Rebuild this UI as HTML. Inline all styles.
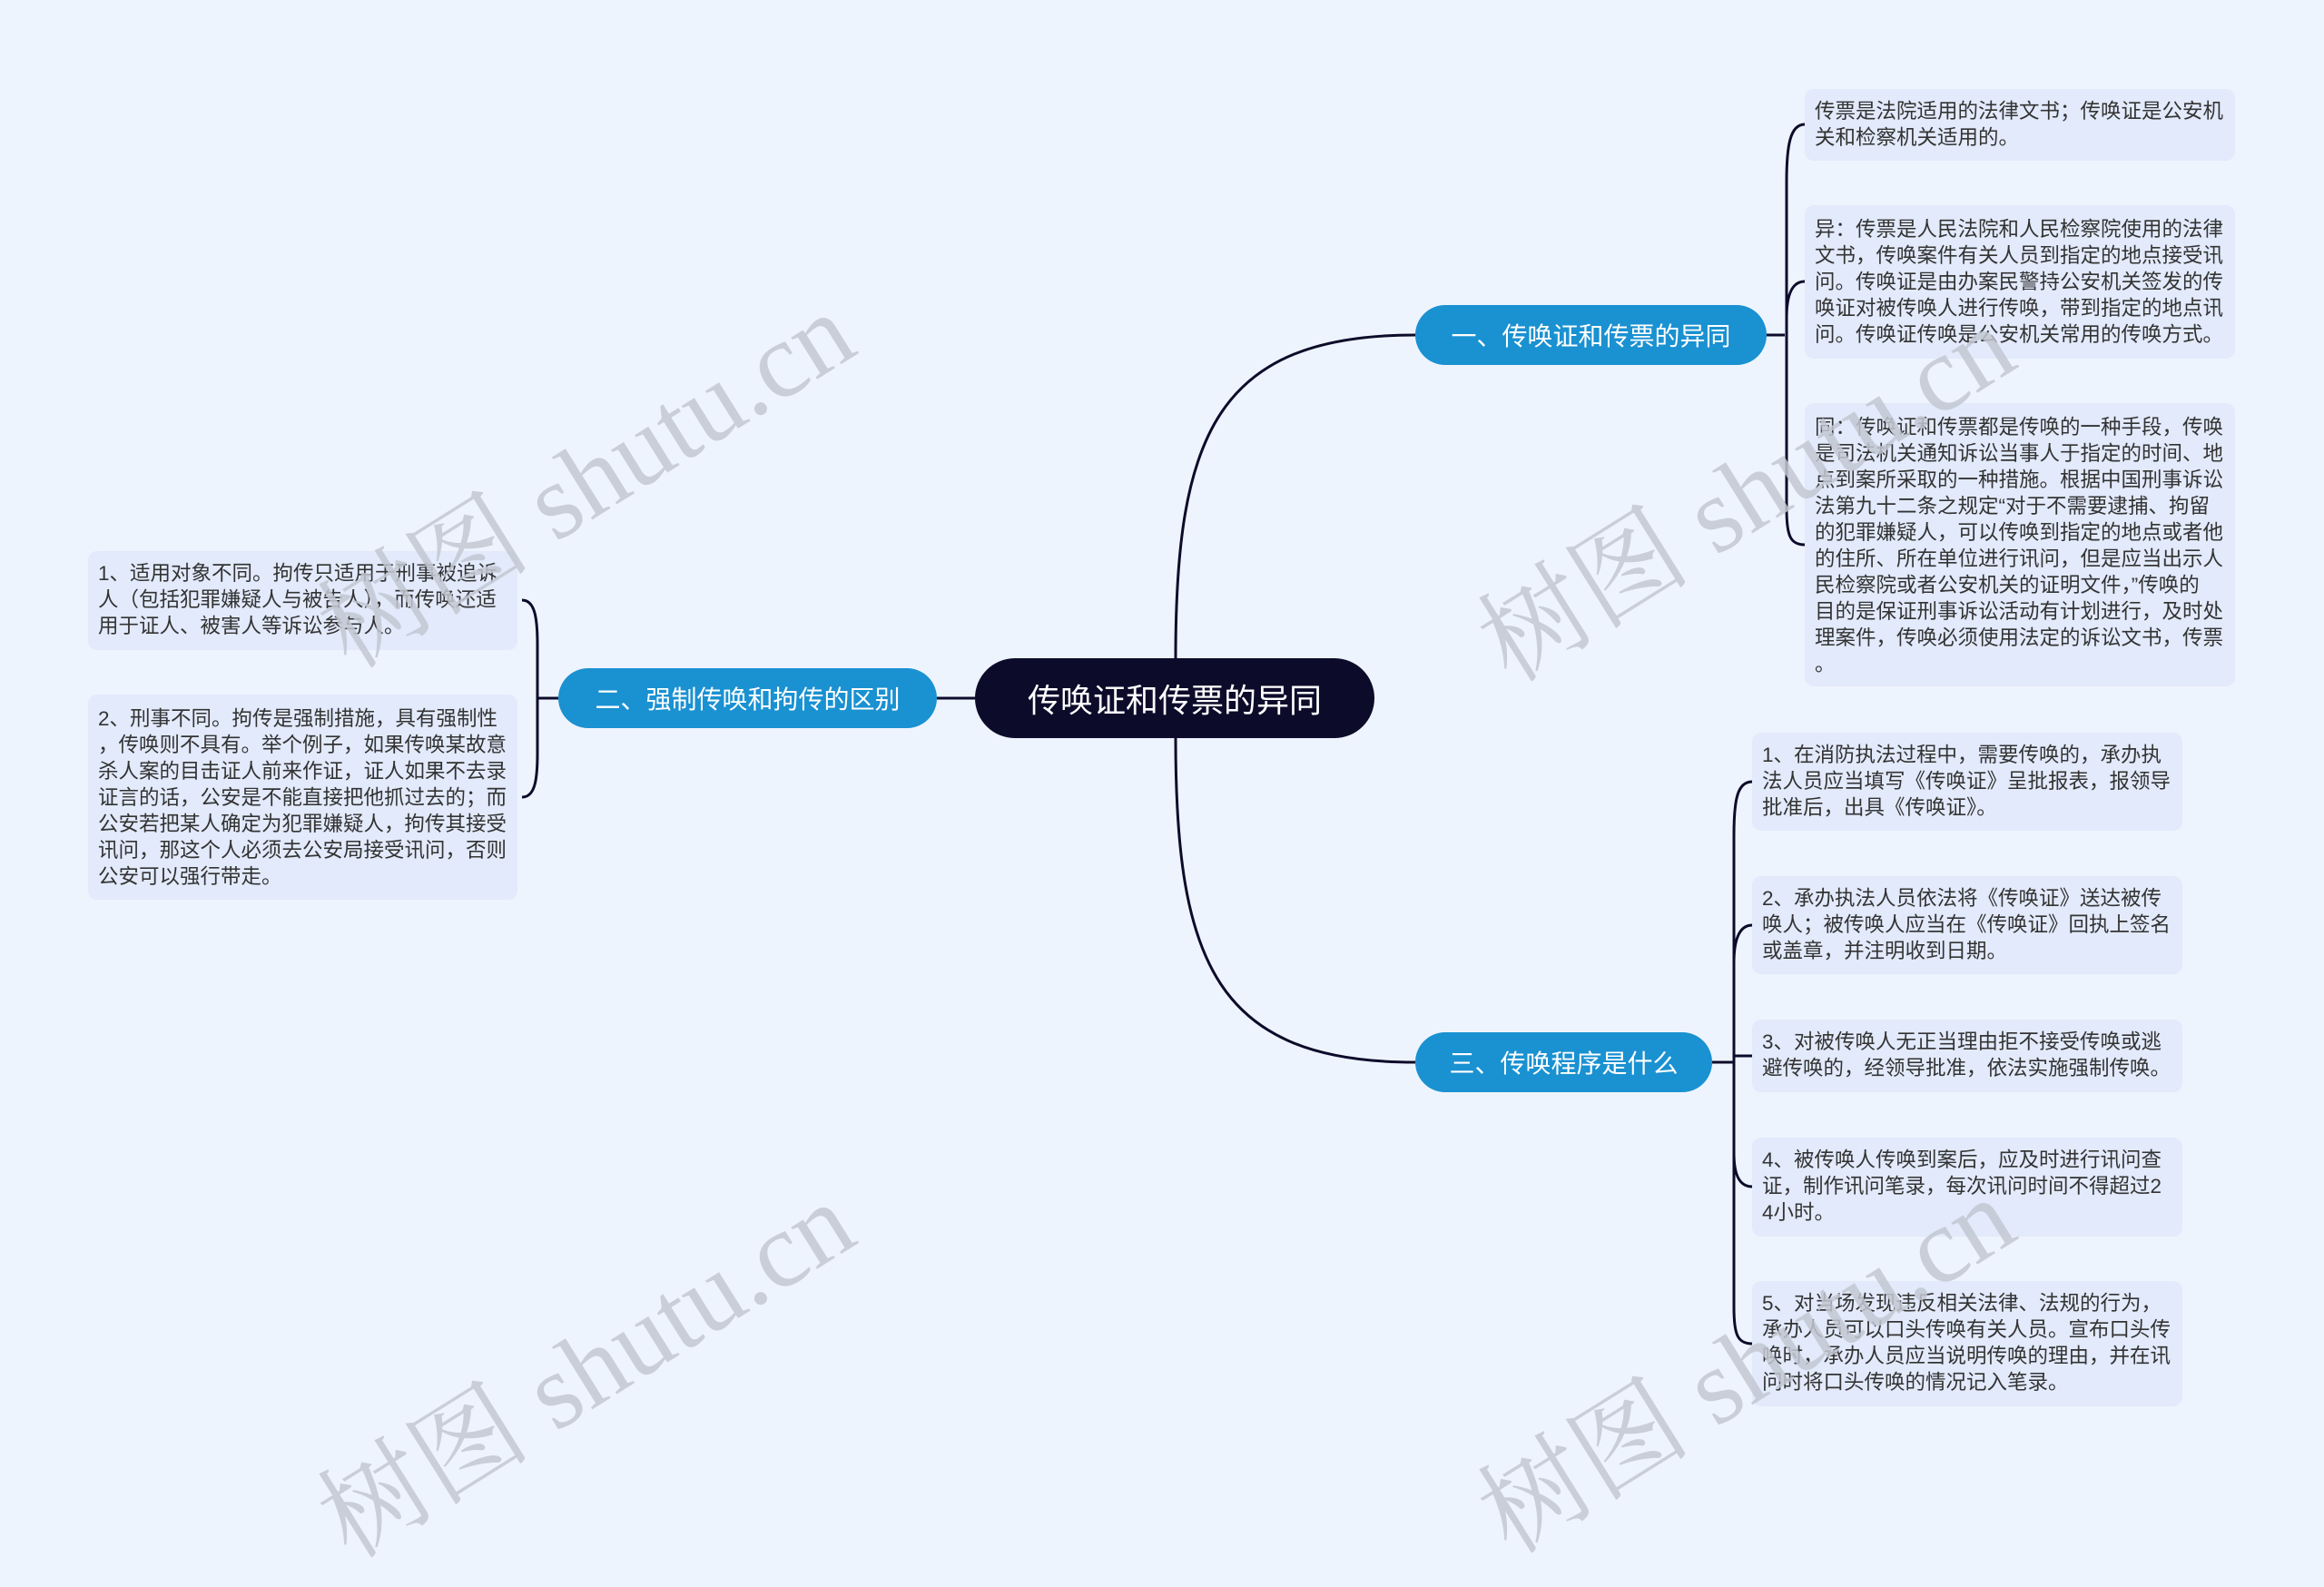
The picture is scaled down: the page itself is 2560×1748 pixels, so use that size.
<!DOCTYPE html>
<html><head><meta charset="utf-8"><style>
html,body{margin:0;padding:0}
body{width:2560px;height:1647px;background:#eef4fe;position:relative;overflow:hidden;font-family:"Liberation Sans","Noto Sans CJK SC",sans-serif}
.leaf{position:absolute;background:#e2eafb;border-radius:10px;color:#333;font-size:22.5px;line-height:29px;letter-spacing:0;box-sizing:border-box;padding:10px 10px 0 11px;white-space:nowrap}
.br{position:absolute;border-radius:33px;background:#1a91d1;color:#fff;font-size:28px;display:flex;align-items:center;justify-content:center;box-sizing:border-box}
.wm{position:absolute;font-family:"Liberation Serif","Noto Serif CJK SC",serif;font-size:118px;color:#c3c8d2;white-space:nowrap;transform:translate(-50%,-50%) rotate(-32deg);opacity:.85}
</style></head><body>
<svg width="2560" height="1647" style="position:absolute;left:0;top:0">
<g fill="none" stroke="#0d0b2a" stroke-width="3">
<path d="M1295 725 C1295 480 1340 369 1559 369"/>
<path d="M1295 813 C1295 1060 1340 1170 1559 1170"/>
<path d="M1074 769 L1032 769"/>
<path d="M1946 369 L1966 369"/>
<path d="M1988 137 C1972 137 1968 160 1968 200 L1968 560 C1968 590 1972 600 1988 600"/>
<path d="M1988 310 C1972 310 1968 330 1968 350"/>
<path d="M1886 1170 L1910 1170"/>
<path d="M1930 861 C1914 861 1910 880 1910 920 L1910 1440 C1910 1470 1914 1480 1930 1480"/>
<path d="M1930 1019 C1914 1019 1910 1040 1910 1060"/>
<path d="M1930 1307 C1914 1307 1910 1290 1910 1270"/>
<path d="M1910 1163 L1930 1163"/>
<path d="M615 769 L592 769"/>
<path d="M575 661 C589 661 592 680 592 710 L592 830 C592 860 589 878 575 878"/>
</g></svg>

<div class="leaf" style="left:1988px;top:98px;width:474px;height:79px">传票是法院适用的法律文书；传唤证是公安机<br>关和检察机关适用的。</div>
<div class="leaf" style="left:1988px;top:226px;width:474px;height:169px;padding-top:12px">异：传票是人民法院和人民检察院使用的法律<br>文书，传唤案件有关人员到指定的地点接受讯<br>问。传唤证是由办案民警持公安机关签发的传<br>唤证对被传唤人进行传唤，带到指定的地点讯<br>问。传唤证传唤是公安机关常用的传唤方式。</div>
<div class="leaf" style="left:1988px;top:444px;width:474px;height:312px;padding-top:12px">同：传唤证和传票都是传唤的一种手段，传唤<br>是司法机关通知诉讼当事人于指定的时间、地<br>点到案所采取的一种措施。根据中国刑事诉讼<br>法第九十二条之规定“对于不需要逮捕、拘留<br>的犯罪嫌疑人，可以传唤到指定的地点或者他<br>的住所、所在单位进行讯问，但是应当出示人<br>民检察院或者公安机关的证明文件，”传唤的<br>目的是保证刑事诉讼活动有计划进行，及时处<br>理案件，传唤必须使用法定的诉讼文书，传票<br>。</div>

<div class="leaf" style="left:1930px;top:807px;width:474px;height:108px">1、在消防执法过程中，需要传唤的，承办执<br>法人员应当填写《传唤证》呈批报表，报领导<br>批准后，出具《传唤证》。</div>
<div class="leaf" style="left:1930px;top:965px;width:474px;height:108px">2、承办执法人员依法将《传唤证》送达被传<br>唤人；被传唤人应当在《传唤证》回执上签名<br>或盖章，并注明收到日期。</div>
<div class="leaf" style="left:1930px;top:1123px;width:474px;height:80px">3、对被传唤人无正当理由拒不接受传唤或逃<br>避传唤的，经领导批准，依法实施强制传唤。</div>
<div class="leaf" style="left:1930px;top:1253px;width:474px;height:109px">4、被传唤人传唤到案后，应及时进行讯问查<br>证，制作讯问笔录，每次讯问时间不得超过2<br>4小时。</div>
<div class="leaf" style="left:1930px;top:1411px;width:474px;height:138px">5、对当场发现违反相关法律、法规的行为，<br>承办人员可以口头传唤有关人员。宣布口头传<br>唤时，承办人员应当说明传唤的理由，并在讯<br>问时将口头传唤的情况记入笔录。</div>

<div class="leaf" style="left:97px;top:607px;width:473px;height:109px">1、适用对象不同。拘传只适用于刑事被追诉<br>人（包括犯罪嫌疑人与被告人），而传唤还适<br>用于证人、被害人等诉讼参与人。</div>
<div class="leaf" style="left:97px;top:765px;width:473px;height:226px;padding-top:12px">2、刑事不同。拘传是强制措施，具有强制性<br>，传唤则不具有。举个例子，如果传唤某故意<br>杀人案的目击证人前来作证，证人如果不去录<br>证言的话，公安是不能直接把他抓过去的；而<br>公安若把某人确定为犯罪嫌疑人，拘传其接受<br>讯问，那这个人必须去公安局接受讯问，否则<br>公安可以强行带走。</div>

<div class="br" style="left:1559px;top:336px;width:387px;height:66px">一、传唤证和传票的异同</div>
<div class="br" style="left:1559px;top:1137px;width:327px;height:66px">三、传唤程序是什么</div>
<div class="br" style="left:615px;top:736px;width:417px;height:66px">二、强制传唤和拘传的区别</div>
<div class="br" style="left:1074px;top:725px;width:440px;height:88px;background:#0d0b2a;border-radius:44px;font-size:36px">传唤证和传票的异同</div>

<div class="wm" style="left:640px;top:520px">树图 shutu.cn</div>
<div class="wm" style="left:1918px;top:535px">树图 shutu.cn</div>
<div class="wm" style="left:640px;top:1500px">树图 shutu.cn</div>
<div class="wm" style="left:1918px;top:1495px">树图 shutu.cn</div>
</body></html>
